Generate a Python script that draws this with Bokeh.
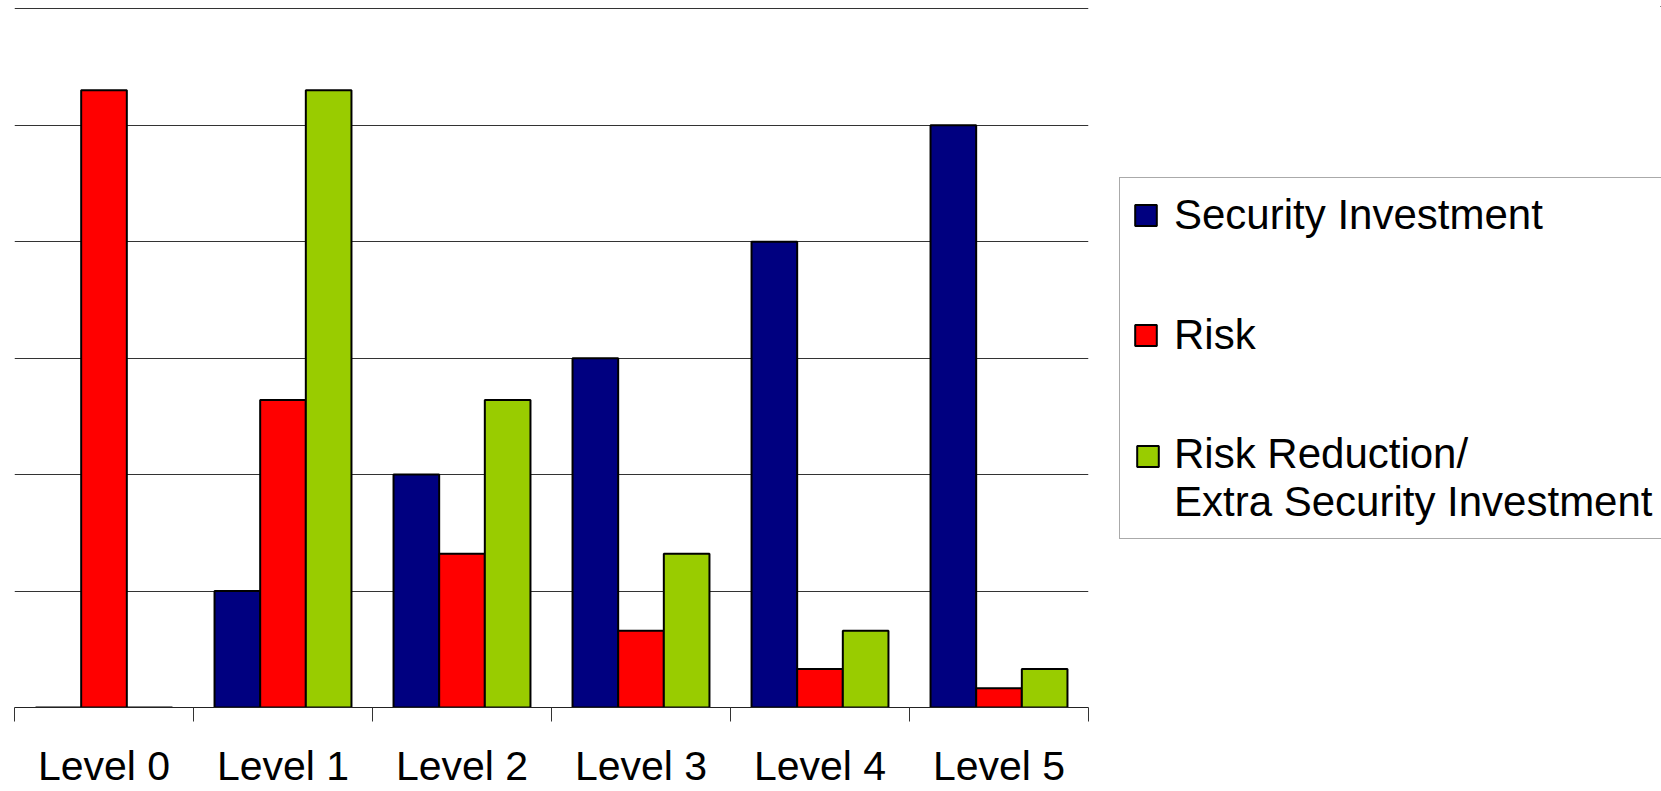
import numpy as np
from bokeh.plotting import figure
from bokeh.layouts import row
from bokeh.models import FixedTicker, Legend, LegendItem, ColumnDataSource, Range1d
from bokeh.embed import file_html
from bokeh.resources import INLINE

levels = ["Level 0", "Level 1", "Level 2", "Level 3", "Level 4", "Level 5"]
security_investment = [0.0, 1.0, 2.0, 3.0, 4.0, 5.0]
risk = [5.3, 2.64, 1.32, 0.66, 0.33, 0.165]
risk_reduction = [0.0, 5.3, 2.64, 1.32, 0.66, 0.33]
series_names = ["Security Investment", "Risk", "Risk Reduction/\nExtra Security Investment"]
series_colors = ["#000080", "#FF0000", "#99CC00"]
grid_values = [0, 1, 2, 3, 4, 5, 6]

FONT = "Liberation Sans"
bar_w = 0.255

p = figure(width=1100, height=791, output_backend="svg", toolbar_location=None,
           x_range=Range1d(0, len(levels)), y_range=Range1d(0, 6.02),
           min_border_left=14, min_border_right=12, min_border_top=6, min_border_bottom=0)
p.outline_line_color = None
p.background_fill_color = "white"
p.border_fill_color = "white"

centers = np.arange(len(levels)) + 0.5
series = [security_investment, risk, risk_reduction]
for k, (vals, col) in enumerate(zip(series, series_colors)):
    src = ColumnDataSource(dict(x=centers + (k - 1) * bar_w, top=vals))
    p.vbar(x="x", top="top", bottom=0, width=bar_w, source=src,
           fill_color=col, line_color="black", line_width=2)

p.yaxis.visible = False
p.xgrid.visible = False
p.ygrid.ticker = FixedTicker(ticks=grid_values)
p.ygrid.grid_line_color = "#333333"
p.ygrid.grid_line_width = 1

xa = p.xaxis[0]
xa.ticker = FixedTicker(ticks=list(centers), minor_ticks=list(range(len(levels) + 1)))
xa.major_label_overrides = {float(c): lab for c, lab in zip(centers, levels)}
xa.major_tick_out = 0
xa.major_tick_in = 0
xa.minor_tick_out = 14
xa.minor_tick_in = 0
xa.minor_tick_line_color = "#333333"
xa.axis_line_color = "#222222"
xa.axis_line_width = 1
xa.major_label_text_font = FONT
xa.major_label_text_font_size = "41px"
xa.major_label_text_color = "black"
xa.major_label_standoff = 21

# legend panel
lg = figure(width=561, height=791, output_backend="svg", toolbar_location=None,
            x_range=Range1d(0, 1), y_range=Range1d(0, 1),
            min_border_left=0, min_border_right=0, min_border_top=0, min_border_bottom=0)
lg.axis.visible = False
lg.grid.visible = False
lg.outline_line_color = None
lg.border_fill_color = "white"
lg.background_fill_color = "white"
leg_renderers = []
for name, col in zip(series_names, series_colors):
    r = lg.vbar(x=[10.0], top=[10.0], bottom=[9.0], width=0.1,
                fill_color=col, line_color="black", line_width=2)
    leg_renderers.append(r)

# main legend: the multi-line entry's swatch is drawn by a second, frameless legend
# so that it sits beside the first line of its label
items = [LegendItem(label=series_names[0], renderers=[leg_renderers[0]]),
         LegendItem(label=series_names[1], renderers=[leg_renderers[1]]),
         LegendItem(label=series_names[2], renderers=[])]
legend = Legend(items=items,
                location=(19, 168), orientation="vertical",
                label_text_font=FONT, label_text_font_size="42px", label_text_color="black",
                label_text_line_height=1.45,
                glyph_width=27, glyph_height=26, label_standoff=15, padding=12,
                spacing=70, label_height=50, margin=0,
                border_line_color="#555555", border_line_width=1,
                background_fill_color="white", background_fill_alpha=1.0)
lg.add_layout(legend)

swatch = Legend(items=[LegendItem(label=" ", renderers=[leg_renderers[2]])],
                location=(34, 238), orientation="vertical",
                label_text_font=FONT, label_text_font_size="8px",
                glyph_width=27, glyph_height=26, label_standoff=0, padding=0,
                spacing=0, label_height=26, margin=0,
                border_line_color=None, background_fill_alpha=0.0)
lg.add_layout(swatch)

open("out.html", "w").write(file_html(row(p, lg), INLINE))
